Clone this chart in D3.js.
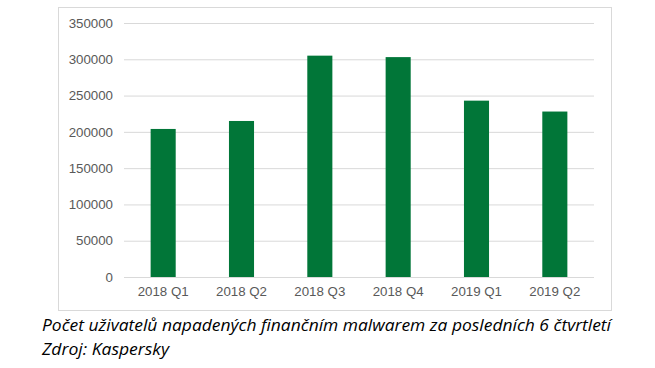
<!DOCTYPE html>
<html><head><meta charset="utf-8">
<script src="https://cdn.jsdelivr.net/npm/d3@7"></script>
<style>body{margin:0;background:#fff}svg{display:block}</style>
</head><body><svg id="c" width="655" height="368"></svg>
<script>
const categories = ["2018 Q1","2018 Q2","2018 Q3","2018 Q4","2019 Q1","2019 Q2"];
const values = [204000, 215000, 305000, 303000, 243000, 228000];
const yTicks = [0,50000,100000,150000,200000,250000,300000,350000];
const captionLines = ["Počet uživatelů napadených finančním malwarem za posledních 6 čtvrtletí","Zdroj: Kaspersky"];

(function(){
const svg = d3.select("#c");
const W = 655, H = 368;
svg.append("rect").attr("width",W).attr("height",H).attr("fill","#fff");
svg.append("rect").attr("x",58.5).attr("y",7.5).attr("width",553).attr("height",303)
  .attr("fill","none").attr("stroke","#d9d9d9").attr("stroke-width",1);

const pL=124, pR=594, pT=23, pB=277;
const x = d3.scaleBand().domain(categories).range([pL,pR]).paddingInner(0.68).paddingOuter(0.34);
const y = d3.scaleLinear().domain([0,350000]).range([pB,pT]);

const yAxis = svg.append("g").attr("transform",`translate(${pL},0)`)
  .call(d3.axisLeft(y).tickValues(yTicks).tickSize(-(pR-pL)).tickPadding(11).tickFormat(d3.format("d")));
yAxis.select(".domain").remove();
yAxis.selectAll(".tick line").attr("stroke","#d9d9d9").attr("stroke-width",1);
yAxis.selectAll(".tick text").attr("fill","#595959").style("font-family","'Liberation Sans', Arial, sans-serif").style("font-size","13.3px");

svg.append("g").selectAll("rect").data(values).join("rect")
  .attr("x",(d,i)=>x(categories[i])).attr("width",x.bandwidth())
  .attr("y",d=>y(d)).attr("height",d=>pB-y(d)).attr("fill","#017638");

const xAxis = svg.append("g").attr("transform",`translate(0,${pB})`)
  .call(d3.axisBottom(x).tickSize(0).tickPadding(10));
xAxis.select(".domain").remove();
xAxis.selectAll(".tick text").attr("fill","#595959").style("font-family","'Liberation Sans', Arial, sans-serif").style("font-size","13.3px");

const capW = [569, 127];
svg.append("g").selectAll("text").data(captionLines).join("text")
  .attr("x",42).attr("y",(d,i)=>331+i*23.5)
  .attr("textLength",(d,i)=>capW[i]).attr("lengthAdjust","spacingAndGlyphs")
  .attr("fill","#000").style("font-family","'Open Sans', Lato, sans-serif").style("font-style","italic").style("font-size","16px")
  .text(d=>d);
})();
</script></body></html>
